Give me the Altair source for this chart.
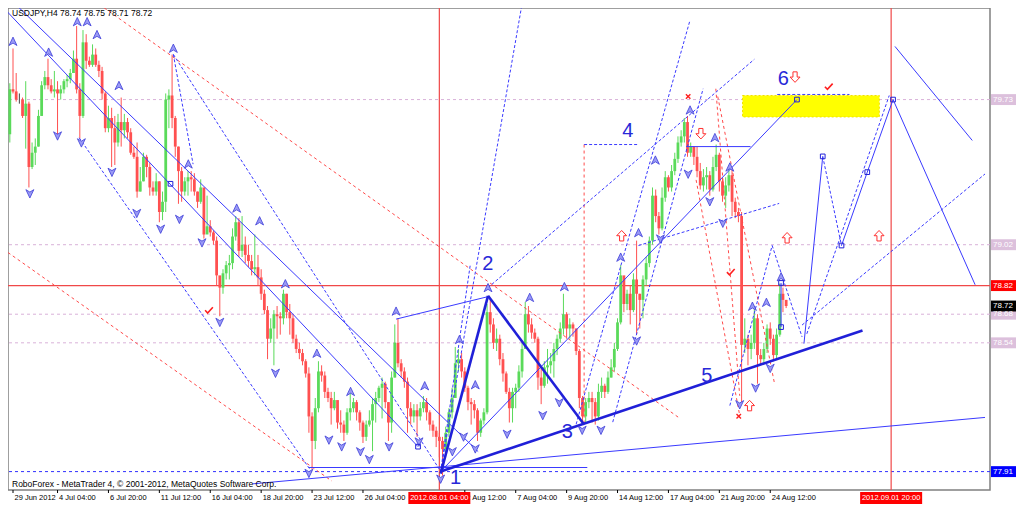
import altair as alt
import pandas as pd

# ---------------- layout ----------------
W, H = 982, 482
X0, X1 = -14.0, 291.5          # visible bar-index range
Y0, Y1 = 77.82, 80.178         # visible price range
FONT = "Liberation Sans"

# ---------------- candles (H4 bars, index 0 = 4 Jul 2012 04:00) ----------------
bar_start = -16
first_open = 79.50
close = [79.56, 79.78, 79.77, 79.73, 79.73, 79.65, 79.71, 79.40, 79.47, 79.50,
         79.65, 79.80, 79.84, 79.80, 79.77, 79.78, 79.76, 79.78, 79.82, 79.83,
         79.86, 79.93, 79.78, 79.65, 80.01, 79.92, 79.90, 79.95, 79.90, 79.87,
         79.76, 79.59, 79.64, 79.59, 79.52, 79.62, 79.58, 79.62, 79.57, 79.47,
         79.45, 79.28, 79.33, 79.45, 79.40, 79.30, 79.28, 79.33, 79.18, 79.23,
         79.73, 79.75, 79.64, 79.50, 79.38, 79.28, 79.33, 79.35, 79.34, 79.28,
         79.23, 79.30, 79.07, 79.11, 79.08, 79.04, 78.87, 78.81, 78.88, 78.92,
         78.93, 79.06, 79.13, 78.99, 79.02, 78.97, 78.94, 78.90, 78.91, 78.86,
         78.78, 78.70, 78.56, 78.61, 78.68, 78.67, 78.66, 78.78, 78.69, 78.66,
         78.56, 78.51, 78.49, 78.45, 78.39, 78.18, 78.06, 78.22, 78.40, 78.38,
         78.30, 78.27, 78.22, 78.26, 78.15, 78.14, 78.10, 78.20, 78.22, 78.25,
         78.20, 78.15, 78.08, 78.14, 78.16, 78.24, 78.27, 78.32, 78.34, 78.25,
         78.15, 78.37, 78.54, 78.44, 78.40, 78.35, 78.22, 78.18, 78.21, 78.18,
         78.22, 78.25, 78.20, 78.14, 78.11, 78.08, 78.06, 78.02, 78.10, 78.20,
         78.27, 78.44, 78.46, 78.40, 78.32, 78.25, 78.24, 78.21, 78.10, 78.16,
         78.20, 78.69, 78.63, 78.54, 78.56, 78.46, 78.39, 78.30, 78.22, 78.30,
         78.32, 78.40, 78.51, 78.68, 78.63, 78.59, 78.56, 78.37, 78.33, 78.42,
         78.43, 78.45, 78.51, 78.56, 78.61, 78.68, 78.61, 78.63, 78.61, 78.50,
         78.27, 78.18, 78.25, 78.27, 78.25, 78.18, 78.30, 78.33, 78.30, 78.37,
         78.42, 78.51, 78.64, 78.87, 78.73, 78.78, 78.70, 78.85, 78.78, 78.75,
         78.85, 78.93, 79.04, 79.26, 79.16, 79.10, 79.25, 79.35, 79.30, 79.38,
         79.44, 79.52, 79.55, 79.62, 79.47, 79.50, 79.45, 79.38, 79.31, 79.35,
         79.36, 79.29, 79.40, 79.46, 79.33, 79.26, 79.31, 79.36, 79.23, 79.18,
         79.16, 78.53, 78.56, 78.51, 78.54, 78.66, 78.48, 78.46, 78.51, 78.61,
         78.56, 78.48, 78.58, 78.78, 78.75, 78.72]
high = [79.58, 79.81, 79.98, 79.86, 79.76, 79.74, 79.82, 79.72, 79.52, 79.54,
        79.68, 79.82, 79.87, 79.93, 79.83, 79.87, 79.82, 79.80, 79.83, 79.85,
        79.88, 79.97, 80.09, 79.81, 80.07, 80.05, 79.94, 80.00, 79.98, 79.92,
        79.89, 79.77, 79.70, 79.69, 79.65, 79.66, 79.74, 79.66, 79.64, 79.59,
        79.50, 79.52, 79.40, 79.47, 79.46, 79.42, 79.33, 79.37, 79.33, 79.28,
        79.76, 79.78, 79.95, 79.65, 79.50, 79.40, 79.35, 79.38, 79.38, 79.37,
        79.28, 79.34, 79.28, 79.26, 79.14, 79.09, 79.06, 78.86, 78.90, 78.94,
        78.97, 79.10, 79.16, 79.15, 79.16, 79.06, 79.02, 78.97, 79.07, 78.97,
        78.90, 78.80, 78.72, 78.66, 78.70, 78.72, 78.69, 78.80, 78.78, 78.73,
        78.68, 78.58, 78.54, 78.51, 78.46, 78.42, 78.20, 78.27, 78.45, 78.43,
        78.40, 78.32, 78.30, 78.30, 78.25, 78.21, 78.16, 78.22, 78.30, 78.27,
        78.26, 78.21, 78.16, 78.16, 78.21, 78.27, 78.30, 78.33, 78.37, 78.35,
        78.25, 78.40, 78.63, 78.66, 78.46, 78.42, 78.37, 78.25, 78.24, 78.24,
        78.25, 78.28, 78.27, 78.21, 78.16, 78.13, 78.10, 78.08, 78.13, 78.22,
        78.32, 78.52, 78.51, 78.49, 78.42, 78.33, 78.27, 78.26, 78.22, 78.17,
        78.22, 78.73, 78.76, 78.66, 78.61, 78.58, 78.49, 78.40, 78.32, 78.32,
        78.34, 78.43, 78.54, 78.74, 78.72, 78.66, 78.61, 78.57, 78.42, 78.45,
        78.51, 78.49, 78.54, 78.58, 78.64, 78.78, 78.69, 78.66, 78.64, 78.61,
        78.51, 78.28, 78.27, 78.30, 78.30, 78.27, 78.34, 78.37, 78.34, 78.40,
        78.46, 78.54, 78.66, 78.92, 78.86, 78.80, 78.82, 78.88, 79.04, 78.78,
        78.87, 78.96, 79.06, 79.30, 79.29, 79.18, 79.30, 79.38, 79.36, 79.41,
        79.47, 79.55, 79.58, 79.64, 79.65, 79.52, 79.50, 79.50, 79.42, 79.39,
        79.40, 79.38, 79.45, 79.51, 79.47, 79.35, 79.35, 79.40, 79.39, 79.25,
        79.20, 79.18, 78.66, 78.58, 78.58, 78.72, 78.68, 78.51, 78.54, 78.63,
        78.64, 78.58, 78.61, 78.83, 78.81, 78.75]
low = [79.35, 79.52, 79.76, 79.72, 79.71, 79.64, 79.49, 79.30, 79.39, 79.41,
       79.50, 79.65, 79.78, 79.78, 79.76, 79.74, 79.56, 79.73, 79.76, 79.79,
       79.81, 79.86, 79.76, 79.54, 79.64, 79.88, 79.89, 79.89, 79.89, 79.84,
       79.73, 79.57, 79.57, 79.40, 79.41, 79.50, 79.50, 79.54, 79.54, 79.46,
       79.44, 79.25, 79.28, 79.33, 79.35, 79.26, 79.26, 79.26, 79.13, 79.14,
       79.18, 79.59, 79.59, 79.45, 79.22, 79.23, 79.26, 79.26, 79.28, 79.26,
       79.20, 79.22, 79.05, 79.09, 79.06, 79.02, 78.82, 78.67, 78.78, 78.85,
       78.85, 78.90, 79.04, 78.96, 78.96, 78.93, 78.91, 78.87, 78.87, 78.82,
       78.75, 78.68, 78.46, 78.54, 78.43, 78.56, 78.58, 78.63, 78.66, 78.58,
       78.54, 78.49, 78.46, 78.43, 78.37, 78.10, 77.92, 78.02, 78.20, 78.35,
       78.27, 78.25, 78.14, 78.21, 78.12, 78.10, 78.06, 78.09, 78.16, 78.20,
       78.16, 78.11, 78.05, 78.06, 78.13, 78.01, 78.15, 78.25, 78.17, 78.22,
       78.06, 78.10, 78.37, 78.42, 78.37, 78.32, 78.10, 78.14, 78.15, 78.08,
       78.16, 78.20, 78.16, 78.11, 78.08, 78.03, 77.98, 77.89, 78.00, 78.08,
       78.17, 78.30, 78.40, 78.37, 78.30, 78.21, 78.14, 78.17, 78.06, 78.08,
       78.14, 78.19, 78.59, 78.51, 78.50, 78.43, 78.35, 78.29, 78.15, 78.15,
       78.22, 78.30, 78.37, 78.53, 78.59, 78.56, 78.54, 78.31, 78.24, 78.32,
       78.34, 78.39, 78.37, 78.48, 78.54, 78.58, 78.56, 78.56, 78.57, 78.48,
       78.22, 78.15, 78.15, 78.22, 78.15, 78.14, 78.16, 78.27, 78.27, 78.29,
       78.37, 78.40, 78.50, 78.63, 78.69, 78.70, 78.63, 78.69, 78.58, 78.61,
       78.66, 78.82, 78.91, 79.02, 79.13, 79.07, 79.09, 79.23, 79.28, 79.28,
       79.36, 79.42, 79.50, 79.52, 79.45, 79.45, 79.41, 79.35, 79.29, 79.28,
       79.29, 79.26, 79.28, 79.38, 79.28, 79.23, 79.20, 79.28, 79.16, 79.15,
       79.13, 78.25, 78.49, 78.43, 78.46, 78.51, 78.34, 78.43, 78.44, 78.49,
       78.53, 78.45, 78.46, 78.57, 78.69, 78.71]

# ---------------- axes text ----------------
time_tick_bar = [-14, 0, 16, 32, 48, 64, 80, 96, 128, 144, 160, 176, 192, 208, 224]
time_tick_text = ["29 Jun 2012", "4 Jul 04:00", "6 Jul 20:00", "11 Jul 12:00", "16 Jul 04:00",
                  "18 Jul 20:00", "23 Jul 12:00", "26 Jul 04:00", "2 Aug 12:00",
                  "7 Aug 04:00", "9 Aug 20:00", "14 Aug 12:00", "17 Aug 04:00", "21 Aug 20:00",
                  "24 Aug 12:00"]
price_ticks = [77.85, 78.00, 78.15, 78.30, 78.45, 78.60, 78.75, 78.90, 79.05,
               79.20, 79.35, 79.50, 79.65, 79.80, 79.95, 80.10]

# ---------------- horizontal / vertical levels ----------------
lavender_levels = [79.73, 79.02, 78.68, 78.54]
red_level = 78.82
blue_level = 77.91
last_price = 78.72
red_vline_bar = [120, 262]
red_vline_text = ["2012.08.01 04:00", "2012.09.01 20:00"]

# ---------------- wave labels ----------------
wave_text = ["1", "2", "3", "4", "5", "6"]
wave_bar = [125.1, 135.2, 160.2, 179.2, 204.1, 228.1]
wave_price = [77.878, 78.924, 78.104, 79.577, 78.377, 79.831]

# ---------------- drawn objects: (bar1, price1, bar2, price2) ----------------
thick_blue = [(120.4, 77.90, 135.3, 78.77),
              (135.3, 78.77, 165.5, 78.14),
              (120.4, 77.91, 253.0, 78.60)]
thin_blue = [(61.3, 77.85, 291.5, 78.175),
             (79.0, 77.93, 166.5, 77.93),
             (120.4, 77.91, 232.4, 79.73),
             (106.4, 78.656, 135.3, 78.766),
             (197.6, 79.50, 217.8, 79.50),
             (234.6, 78.536, 240.5, 79.452),
             (246.4, 79.016, 254.5, 79.375),
             (254.5, 79.375, 262.6, 79.73),
             (262.6, 79.73, 288.4, 78.824),
             (263.2, 79.99, 287.5, 79.53),
             (227.4, 78.833, 227.4, 78.617),
             (-13.2, 80.196, 132.2, 78.008),
             (-18.0, 80.196, 113.3, 78.032)]
dashed_blue = [(120.4, 77.91, 145.9, 80.19),
               (120.4, 77.91, 129.7, 78.92),
               (135.3, 78.81, 219.0, 79.927),
               (240.5, 79.452, 246.4, 79.016),
               (226.2, 79.755, 248.9, 79.755),
               (36.4, 79.951, 120.4, 77.912),
               (36.4, 79.951, 42.6, 79.414),
               (6.8, 79.543, 79.3, 77.922),
               (163.0, 78.142, 198.8, 80.119),
               (174.5, 78.152, 202.9, 79.783),
               (182.6, 79.016, 226.8, 79.222),
               (235.5, 78.584, 261.4, 79.75),
               (234.0, 78.627, 291.5, 79.366),
               (211.3, 78.233, 224.6, 79.016),
               (224.6, 79.016, 234.0, 78.569),
               (165.5, 79.51, 182.6, 79.51)]
dashed_red = [(13.1, 80.196, 195.1, 78.176),
              (-15.6, 78.982, 86.2, 77.864),
              (165.5, 79.51, 165.5, 78.142),
              (200.7, 79.337, 214.4, 78.185),
              (206.9, 79.783, 214.4, 78.281),
              (207.5, 79.745, 225.3, 78.344)]
square_bar = [232.4, 240.5, 246.4, 254.5, 262.6, 227.4, 227.4, 113.3, 35.5]
square_price = [79.73, 79.452, 79.016, 79.375, 79.73, 78.833, 78.617, 78.032, 79.318]
target_box = (215.3, 79.75, 258.3, 79.645)

# fractal arrows
up_bar = [-14.0, -2.8, 6.2, 9.3, 12.4, 19.3, 36.4, 41.1, 56.3, 63.5, 71.6, 81.5, 92.1,
          106.4, 115.4, 126.3, 131.3, 135.3, 148.4, 159.3, 177.0, 182.6, 187.9, 198.8,
          206.6, 211.3, 218.4, 222.8, 227.4]
up_price = [80.014, 79.961, 80.11, 80.11, 80.047, 79.798, 79.98, 79.414, 79.198, 79.136,
            78.828, 78.488, 78.301, 78.694, 78.329, 78.555, 78.334, 78.809, 78.761, 78.814,
            78.958, 79.078, 79.433, 79.678, 79.543, 79.399, 78.718, 78.737, 78.862]
down_bar = [-8.7, 0.0, 7.5, 17.1, 24.9, 32.4, 38.3, 45.4, 51.0, 68.5, 79.0, 85.3, 89.3,
            95.2, 98.0, 104.2, 113.6, 120.4, 124.1, 127.6, 131.3, 141.3, 152.5, 157.7,
            164.9, 170.8, 182.0, 189.5, 198.2, 205.0, 209.1, 214.4, 219.4, 224.0]
down_price = [79.27, 79.553, 79.519, 79.375, 79.174, 79.097, 79.145, 79.03, 78.641, 78.392,
              77.902, 78.065, 78.032, 78.008, 77.97, 78.032, 78.056, 77.874, 78.008, 78.08,
              78.022, 78.094, 78.185, 78.248, 78.113, 78.113, 78.55, 79.049, 79.366, 79.231,
              79.126, 78.238, 78.32, 78.416]

# red signal marks
red_up_bar = [177.3, 229.3, 258.2, 217.5]
red_up_price = [79.064, 79.054, 79.064, 78.233]
red_down_bar = [202.2, 231.8]
red_down_price = [79.563, 79.84]
red_check_bar = [47.6, 211.6, 242.4]
red_check_price = [78.699, 78.886, 79.793]
red_x_bar = [198.2, 214.1]
red_x_price = [79.745, 78.181]

# ---------------- build ----------------
opens = [first_open] + close[:-1]
idx = list(range(bar_start, bar_start + len(close)))
df = pd.DataFrame({"i": idx, "o": opens, "c": close, "h": high, "l": low})
df["kind"] = ["up" if c > o else ("down" if c < o else "flat") for o, c in zip(df.o, df.c)]

xsc = alt.Scale(domain=[X0, X1], nice=False, zero=False)
ysc = alt.Scale(domain=[Y0, Y1], nice=False, zero=False)


def X(f):
    return alt.X(f, type="quantitative", scale=xsc, axis=None)


def Y(f, axis=None):
    return alt.Y(f, type="quantitative", scale=ysc, axis=axis)


yaxis = alt.Axis(orient="right", values=price_ticks, format=".2f", tickSize=3,
                 tickColor="#000000", domain=False, grid=False, title=None,
                 labelFont=FONT, labelFontSize=8, labelColor="#000000", labelPadding=2)

layers = []

# levels
lev = pd.DataFrame({"p": lavender_levels})
layers.append(alt.Chart(lev).mark_rule(color="#d9b2d9", strokeWidth=1, strokeDash=[3, 3])
              .encode(y=Y("p")))
layers.append(alt.Chart(pd.DataFrame({"p": [blue_level]}))
              .mark_rule(color="#3030ff", strokeWidth=1, strokeDash=[3, 3]).encode(y=Y("p")))
layers.append(alt.Chart(pd.DataFrame({"p": [red_level]}))
              .mark_rule(color="#f04848", strokeWidth=1.2).encode(y=Y("p")))
layers.append(alt.Chart(pd.DataFrame({"b": red_vline_bar}))
              .mark_rule(color="#f04848", strokeWidth=1.2).encode(x=X("b")))

# target box
tb = pd.DataFrame([target_box], columns=["x", "y", "x2", "y2"])
layers.append(alt.Chart(tb).mark_rect(color="#ffff00", stroke="#f0e000", strokeDash=[2, 2])
              .encode(x=X("x"), x2="x2", y=Y("y"), y2="y2"))

# candles
kind_col = alt.Color("kind:N", legend=None,
                     scale=alt.Scale(domain=["up", "down", "flat"],
                                     range=["#5ada5a", "#ff5050", "#444444"]))
body_col = alt.Color("kind:N", legend=None,
                     scale=alt.Scale(domain=["up", "down", "flat"],
                                     range=["#1ed81e", "#ee1010", "#303030"]))
layers.append(alt.Chart(df).mark_rule(strokeWidth=1, clip=True)
              .encode(x=X("i"), y=Y("l", yaxis), y2="h", color=kind_col))
layers.append(alt.Chart(df).mark_bar(size=2.8, clip=True)
              .encode(x=X("i"), y=Y("o"), y2="c", color=body_col))


def seg_layer(segs, color, width, dash=None):
    d = pd.DataFrame(segs, columns=["x", "y", "x2", "y2"])
    kw = dict(color=color, strokeWidth=width, clip=True)
    if dash:
        kw["strokeDash"] = dash
    return alt.Chart(d).mark_rule(**kw).encode(x=X("x"), x2="x2", y=Y("y"), y2="y2")


layers.append(seg_layer(dashed_red, "#ff4a4a", 1, [3, 3]))
layers.append(seg_layer(dashed_blue, "#3a3aff", 1, [3, 2]))
layers.append(seg_layer(thin_blue, "#3a3aff", 1))
layers.append(seg_layer(thick_blue, "#2020d8", 2.6))


def pt_layer(xs, ys, shape, size, **kw):
    d = pd.DataFrame({"x": xs, "y": ys})
    return alt.Chart(d).mark_point(shape=shape, size=size, opacity=1, clip=True, **kw) \
        .encode(x=X("x"), y=Y("y"))


# fractal arrows
layers.append(pt_layer(up_bar, up_price, "M0,-1L0.9,0.9L0,0.35L-0.9,0.9Z", 78,
                       filled=True, fill="#9a9af5", stroke="#3c3cd8", strokeWidth=0.8))
layers.append(pt_layer(down_bar, down_price, "M0,1L0.9,-0.9L0,-0.35L-0.9,-0.9Z", 78,
                       filled=True, fill="#9a9af5", stroke="#3c3cd8", strokeWidth=0.8))
# squares
layers.append(pt_layer(square_bar, square_price, "square", 22, filled=False,
                       color="#2020d8", strokeWidth=1))
# red marks
arrow_up = "M-0.4,1L-0.4,0L-0.95,0L0,-1L0.95,0L0.4,0L0.4,1Z"
arrow_dn = "M-0.4,-1L-0.4,0L-0.95,0L0,1L0.95,0L0.4,0L0.4,-1Z"
layers.append(pt_layer(red_up_bar, red_up_price, arrow_up, 110, filled=False,
                       color="#ff3030", strokeWidth=1))
layers.append(pt_layer(red_down_bar, red_down_price, arrow_dn, 110, filled=False,
                       color="#ff3030", strokeWidth=1))
layers.append(pt_layer(red_check_bar, red_check_price, "M-1,0L-0.35,0.7L1,-0.8", 60,
                       filled=False, color="#ff2020", strokeWidth=1.6))
layers.append(pt_layer(red_x_bar, red_x_price, "M-1,-1L1,1M-1,1L1,-1", 20,
                       filled=False, color="#ff2020", strokeWidth=1.4))

# wave numbers
wv = pd.DataFrame({"x": wave_bar, "y": wave_price, "t": wave_text})
layers.append(alt.Chart(wv).mark_text(font=FONT, fontSize=20, color="#2828d8")
              .encode(x=X("x"), y=Y("y"), text="t"))

# bottom time labels + ticks
tt = pd.DataFrame({"b": time_tick_bar, "t": time_tick_text})
layers.append(alt.Chart(tt).mark_rule(color="#000000", strokeWidth=1)
              .encode(x=X("b"), y=alt.value(H), y2=alt.value(H + 3)))
layers.append(alt.Chart(tt).mark_text(font=FONT, fontSize=7.5, align="left", baseline="top",
                                      dx=1.5, color="#000000")
              .encode(x=X("b"), y=alt.value(H + 4), text="t"))

# red time boxes
rv = pd.DataFrame({"b": red_vline_bar, "t": red_vline_text})
layers.append(alt.Chart(rv).mark_point(shape="M-1,-0.19H1V0.19H-1Z", size=3844, filled=True,
                                       color="#ff0000", opacity=1, strokeWidth=0)
              .encode(x=X("b"), y=alt.value(H + 8)))
layers.append(alt.Chart(rv).mark_text(font=FONT, fontSize=7.5, color="white", baseline="middle")
              .encode(x=X("b"), y=alt.value(H + 8), text="t"))

# price boxes on the right axis
pb = pd.DataFrame({
    "p": lavender_levels + [red_level, last_price, blue_level],
    "bg": ["#dcc0dc"] * len(lavender_levels) + ["#ff0000", "#000000", "#0000ff"],
})
pb["t"] = pb["p"].map(lambda v: f"{v:.2f}")
layers.append(alt.Chart(pb).mark_point(shape="M-1,-0.39H1V0.39H-1Z", size=784, filled=True,
                                       opacity=1, strokeWidth=0)
              .encode(x=alt.value(W + 15), y=Y("p"), color=alt.Color("bg:N", scale=None)))
layers.append(alt.Chart(pb).mark_text(font=FONT, fontSize=8, color="white", align="left",
                                      baseline="middle")
              .encode(x=alt.value(W + 3), y=Y("p"), text="t"))

# captions
cap = pd.DataFrame({"t": ["USDJPY,H4  78.74 78.75 78.71 78.72"]})
layers.append(alt.Chart(cap).mark_text(font=FONT, fontSize=8.5, align="left", baseline="top",
                                       color="#000000")
              .encode(x=alt.value(4), y=alt.value(1), text="t"))
cap2 = pd.DataFrame({"t": ["RoboForex - MetaTrader 4, \u00a9 2001-2012, MetaQuotes Software Corp."]})
layers.append(alt.Chart(cap2).mark_text(font=FONT, fontSize=8.5, align="left", baseline="bottom",
                                        color="#000000")
              .encode(x=alt.value(4), y=alt.value(H - 1), text="t"))

chart = (alt.layer(*layers)
         .properties(width=W, height=H, autosize="none",
                     padding={"left": 0, "top": 0, "right": 26, "bottom": 16},
                     background="white")
         .configure_view(stroke="#808080", strokeWidth=1.5))

chart.save("out.html", embed_options={"renderer": "svg", "actions": False})
